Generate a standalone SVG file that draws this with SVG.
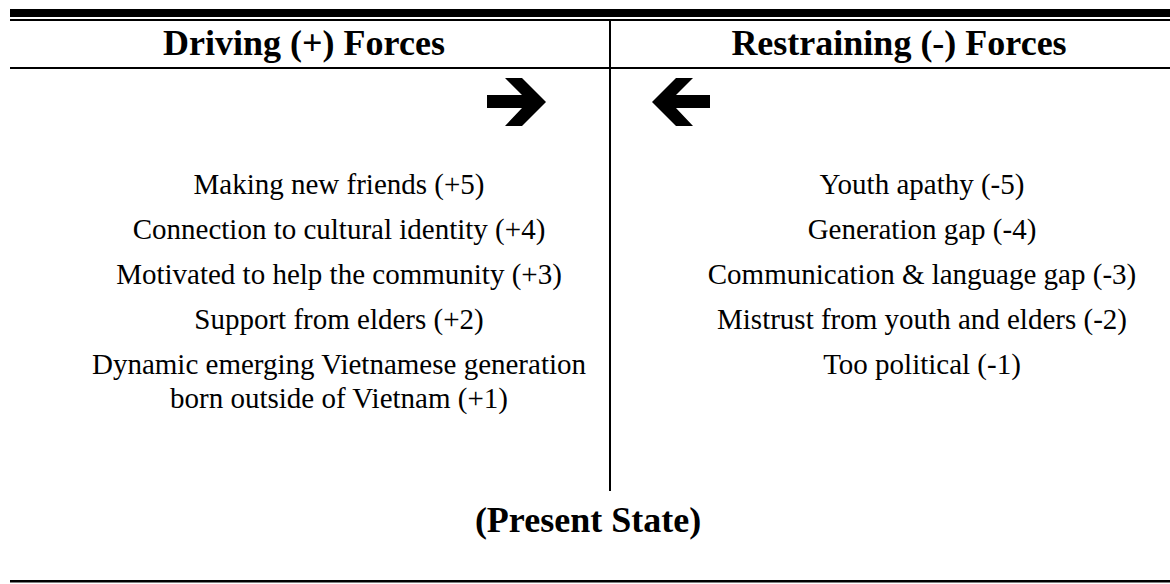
<svg xmlns="http://www.w3.org/2000/svg" width="1170" height="584" viewBox="0 0 1170 584">
<style>
.hdr{font-family:"Liberation Serif","Times New Roman",serif;font-weight:bold;font-size:36px;fill:#000;text-anchor:middle}
.item{font-family:"Liberation Serif","Times New Roman",serif;font-size:29px;fill:#000;text-anchor:middle}
.rule{fill:#000}
</style>
<rect width="1170" height="584" fill="#fff"/>
<g id="frame">
<rect class="rule" x="10" y="9" width="1160" height="8"/>
<rect class="rule" x="10" y="19" width="1160" height="2"/>
<rect class="rule" x="10" y="67" width="1160" height="2"/>
<rect class="rule" x="609" y="21" width="2" height="470"/>
<rect class="rule" x="10" y="580" width="1160" height="2.5"/>
</g>
<g id="driving">
<text class="hdr" x="304" y="55">Driving (+) Forces</text>
<polygon id="arrow-right" points="487,95 522,95 505,78 522,78 546,102 522,126 505,126 522,108 487,108" fill="#000"/>
<text class="item" x="339" y="194">Making new friends (+5)</text>
<text class="item" x="339" y="239">Connection to cultural identity (+4)</text>
<text class="item" x="339" y="284">Motivated to help the community (+3)</text>
<text class="item" x="339" y="329">Support from elders (+2)</text>
<text class="item" x="339" y="374">Dynamic emerging Vietnamese generation</text>
<text class="item" x="339" y="408">born outside of Vietnam (+1)</text>
</g>
<g id="restraining">
<text class="hdr" x="899" y="55">Restraining (-) Forces</text>
<polygon id="arrow-left" points="710,95 676,95 693,78 676,78 652,102 676,126 693,126 676,108 710,108" fill="#000"/>
<text class="item" x="922" y="194">Youth apathy (-5)</text>
<text class="item" x="922" y="239">Generation gap (-4)</text>
<text class="item" x="922" y="284">Communication &amp; language gap (-3)</text>
<text class="item" x="922" y="329">Mistrust from youth and elders (-2)</text>
<text class="item" x="922" y="374">Too political (-1)</text>
</g>
<g id="state">
<text class="hdr" x="588" y="532">(Present State)</text>
</g>
</svg>
